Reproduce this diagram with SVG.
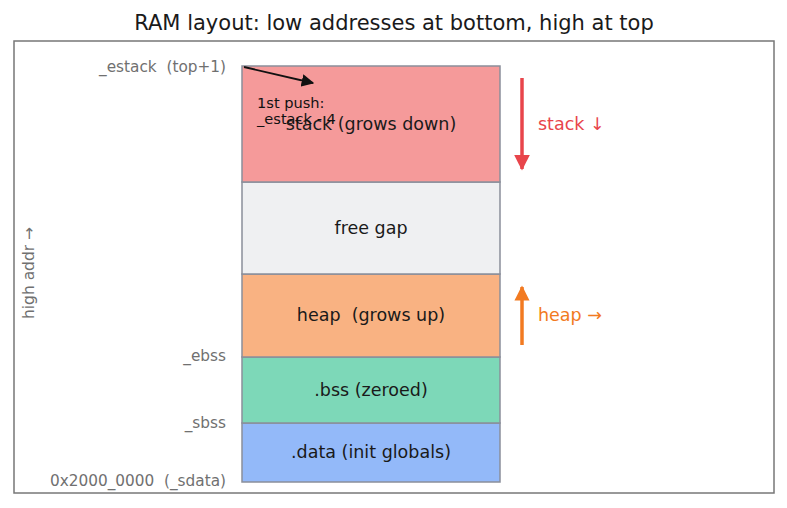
<svg xmlns="http://www.w3.org/2000/svg" width="787" height="508" viewBox="0 0 787 508">
<style>
text{font-family:"DejaVu Sans",sans-serif;white-space:pre}
.blk{stroke:#8a8f9a;stroke-width:1.5}
.lbl{font-size:17.5px;fill:#1a1a1a;text-anchor:middle}
.addr{font-size:15.3px;fill:#707070;text-anchor:end}
</style>
<defs>
<marker id="ahr" viewBox="0 0 10 10" refX="9" refY="5" markerWidth="4.6" markerHeight="4.6" orient="auto" markerUnits="strokeWidth"><path d="M0,0 L10,5 L0,10 z" fill="#e8454b"/></marker>
<marker id="aho" viewBox="0 0 10 10" refX="9" refY="5" markerWidth="4.3" markerHeight="4.3" orient="auto" markerUnits="strokeWidth"><path d="M0,0 L10,5 L0,10 z" fill="#f27a21"/></marker>
<marker id="ahk" viewBox="0 0 10 10" refX="9" refY="5" markerWidth="7" markerHeight="7" orient="auto" markerUnits="strokeWidth"><path d="M0,0 L10,5 L0,10 z" fill="#111"/></marker>
</defs>
<rect width="787" height="508" fill="#fff"/>
<text x="394" y="30" font-size="21" fill="#1a1a1a" text-anchor="middle">RAM layout: low addresses at bottom, high at top</text>
<rect x="14" y="41" width="760" height="452" fill="none" stroke="#777" stroke-width="1.5"/>
<g id="data"><rect class="blk" x="242" y="423" width="258" height="59" fill="#93b9f9"/><text class="lbl" x="371" y="458">.data (init globals)</text></g>
<g id="bss"><rect class="blk" x="242" y="357" width="258" height="66" fill="#7dd8b8"/><text class="lbl" x="371" y="396">.bss (zeroed)</text></g>
<g id="heap"><rect class="blk" x="242" y="274" width="258" height="83" fill="#f9b282"/><text class="lbl" x="371" y="321">heap  (grows up)</text></g>
<g id="gap"><rect class="blk" x="242" y="182" width="258" height="92" fill="#eff0f2"/><text class="lbl" x="371" y="234">free gap</text></g>
<g id="stack"><rect class="blk" x="242" y="66" width="258" height="116" fill="#f59a9a"/><text class="lbl" x="371" y="130">stack (grows down)</text></g>
<g id="addrs">
<text class="addr" x="226" y="72">_estack  (top+1)</text>
<text class="addr" x="226" y="361">_ebss</text>
<text class="addr" x="226" y="428">_sbss</text>
<text class="addr" x="226" y="486">0x2000_0000  (_sdata)</text>
<text font-size="15.5" fill="#707070" text-anchor="middle" transform="translate(34,273) rotate(-90)">high addr →</text>
</g>
<g id="connectors">
<line x1="244" y1="67" x2="313" y2="83" stroke="#111" stroke-width="1.8" marker-end="url(#ahk)"/>
<line x1="522" y1="78" x2="522" y2="169" stroke="#e8454b" stroke-width="3.5" marker-end="url(#ahr)"/>
<line x1="522" y1="345" x2="522" y2="287" stroke="#f27a21" stroke-width="3.5" marker-end="url(#aho)"/>
</g>
<g id="notes">
<text x="257" y="108" font-size="14.6" fill="#111">1st push:</text>
<text x="257" y="124" font-size="14.6" fill="#111">_estack - 4</text>
<text x="538" y="130" font-size="17.5" fill="#e8454b">stack ↓</text>
<text x="538" y="321" font-size="17.5" fill="#f27a21">heap →</text>
</g>
</svg>
